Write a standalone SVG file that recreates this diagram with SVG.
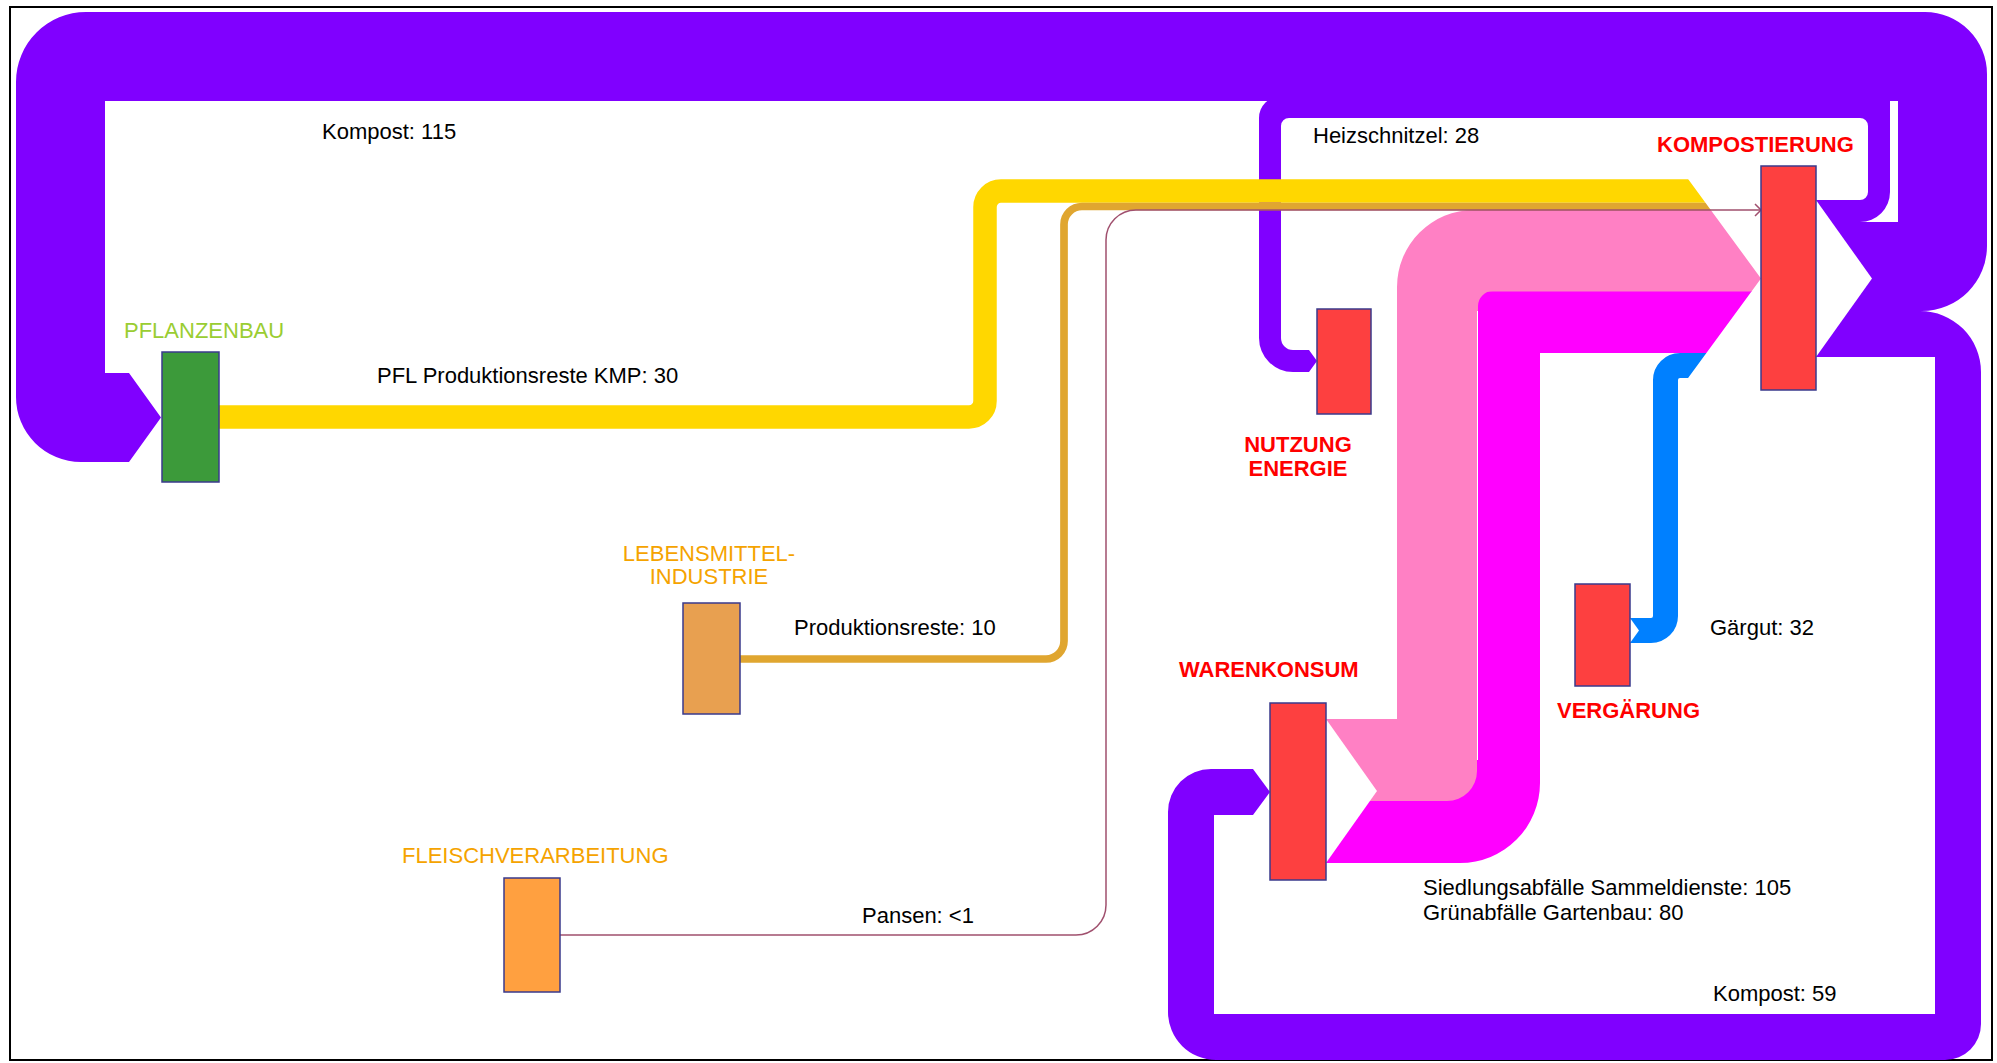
<svg xmlns="http://www.w3.org/2000/svg" width="1997" height="1063" viewBox="0 0 1997 1063">
  <style>
    .lbl { font-family: "Liberation Sans", Arial, sans-serif; font-size: 22px; fill: #000; }
    .nlbl { font-family: "Liberation Sans", Arial, sans-serif; font-size: 22px; font-weight: bold; fill: #ff0000; }
    .slbl { font-family: "Liberation Sans", Arial, sans-serif; font-size: 22px; }
    .node { stroke: #3a3a8c; stroke-width: 1.5; }
    .red { fill: #fd4040; }
    .purple { fill: #8000ff; }
    .notch { fill: #ffffff; }
  </style>
  <defs>
    <!-- everything left of the inflow chevron at KOMPOSTIERUNG -->
    <clipPath id="inflowClip">
      <path d="M0,0 H1680 V168 L1761,278.5 L1680,389 V1063 H0 Z"/>
    </clipPath>
    <marker id="openArrow" markerWidth="9" markerHeight="14" refX="7" refY="7" orient="auto" markerUnits="userSpaceOnUse">
      <path d="M1,1 L7,7 L1,13" fill="none" stroke="#a0506e" stroke-width="1.5"/>
    </marker>
  </defs>

  <rect x="0" y="0" width="1997" height="1063" fill="#ffffff"/>
  <rect x="10" y="7" width="1982" height="1053" fill="none" stroke="#000" stroke-width="2"/>

  <g id="connectors">
    <!-- Kompost: 115 (KOMPOSTIERUNG -> PFLANZENBAU) -->
    <path id="flow-kompost-115" class="purple" d="M1816,311 L1922,311 A65,65 0 0 0 1987,246 L1987,74 A62,62 0 0 0 1925,12 L86,12 A70,70 0 0 0 16,82 L16,397 A65,65 0 0 0 81,462 L129,462 L161,417.5 L129,373 L105,373 L105,101 L1898,101 L1898,222 L1816,222 Z"/>
    <!-- Heizschnitzel: 28 (KOMPOSTIERUNG -> NUTZUNG ENERGIE) -->
    <path id="flow-heizschnitzel" class="purple" d="M1816,222 L1860,222 A30,30 0 0 0 1890,192 L1890,96 L1281,96 A22,22 0 0 0 1259,118 L1259,338 A34,34 0 0 0 1293,372 L1309,372 L1317,361 L1309,350 L1293,350 A12,12 0 0 1 1281,338 L1281,126 A8,8 0 0 1 1289,118 L1860,118 A8,8 0 0 1 1868,126 L1868,192 A8,8 0 0 1 1860,200 L1816,200 Z"/>
    <!-- Kompost: 59 (KOMPOSTIERUNG -> WARENKONSUM) -->
    <path id="flow-kompost-59" class="purple" d="M1816,311 L1920,311 A61,61 0 0 1 1981,372 L1981,1024 A36,36 0 0 1 1945,1060 L1216,1060 A48,48 0 0 1 1168,1012 L1168,812 A43,43 0 0 1 1211,769 L1253,769 L1270,792 L1253,815 L1214,815 L1214,1014 L1935,1014 L1935,357 L1816,357 Z"/>
    <polygon class="notch" points="1816,200 1872,278.5 1816,357"/>

    <g clip-path="url(#inflowClip)">
      <!-- Gärgut: 32 (VERGÄRUNG -> KOMPOSTIERUNG) -->
      <path id="flow-gaergut" d="M1630,630.5 L1651,630.5 A14.5,14.5 0 0 0 1665.5,616 L1665.5,380 A14.5,14.5 0 0 1 1680,365.5 L1800,365.5" fill="none" stroke="#0080ff" stroke-width="25"/>
      <!-- Grünabfälle Gartenbau: 80 -->
      <rect x="1477" y="291" width="20" height="20" fill="#ff80c4"/>
      <path id="flow-gruenabfaelle" fill="#ff00ff" d="M1326,801 L1440,801 L1440,760 L1478,760 L1478,306 A15,15 0 0 1 1493,291 L1800,291 L1800,353 L1540,353 L1540,783 A80,80 0 0 1 1460,863 L1326,863 Z"/>
      <!-- Siedlungsabfälle Sammeldienste: 105 -->
      <path id="flow-siedlungsabfaelle" fill="#ff80c4" d="M1326,719 L1397,719 L1397,287 A77,77 0 0 1 1474,210 L1800,210 L1800,291.5 L1477,291.5 L1477,771 A30,30 0 0 1 1447,801 L1326,801 Z"/>
      <!-- PFL Produktionsreste KMP: 30 -->
      <path id="flow-pfl" d="M219,417 L969,417 A16,16 0 0 0 985,401 L985,207 A16,16 0 0 1 1001,191 L1800,191" fill="none" stroke="#ffd700" stroke-width="23.5"/>
      <!-- Produktionsreste: 10 -->
      <path id="flow-produktionsreste" d="M740,659 L1046,659 A18,18 0 0 0 1064,641 L1064,224.5 A18,18 0 0 1 1082,206.5 L1800,206.5" fill="none" stroke="#e0a630" stroke-width="7.7"/>
    </g>
    <polygon class="notch" points="1630,618 1639,630.5 1630,643"/>
    <polygon class="notch" points="1326,719 1377,791 1326,863"/>

    <!-- Pansen: <1 -->
    <path id="flow-pansen" d="M560,935 L1076,935 A30,30 0 0 0 1106,905 L1106,240 A30,30 0 0 1 1136,210 L1761,210" fill="none" stroke="#a0506e" stroke-width="1.5" marker-end="url(#openArrow)"/>

    <text class="lbl" x="322" y="139">Kompost: 115</text>
    <text class="lbl" x="377" y="383">PFL Produktionsreste KMP: 30</text>
    <text class="lbl" x="1313" y="143">Heizschnitzel: 28</text>
    <text class="lbl" x="794" y="635">Produktionsreste: 10</text>
    <text class="lbl" x="862" y="923">Pansen: &lt;1</text>
    <text class="lbl" x="1710" y="635">Gärgut: 32</text>
    <text class="lbl" x="1423" y="895">Siedlungsabfälle Sammeldienste: 105</text>
    <text class="lbl" x="1423" y="920">Grünabfälle Gartenbau: 80</text>
    <text class="lbl" x="1713" y="1001">Kompost: 59</text>
  </g>

  <g id="node-pflanzenbau">
    <rect class="node" x="162" y="352" width="57" height="130" fill="#3c9a3a"/>
    <text class="slbl" x="124" y="338" fill="#9acd32">PFLANZENBAU</text>
  </g>
  <g id="node-lebensmittelindustrie">
    <rect class="node" x="683" y="603" width="57" height="111" fill="#e8a050"/>
    <text class="slbl" x="709" y="561" fill="#f5a300" text-anchor="middle">LEBENSMITTEL-</text>
    <text class="slbl" x="709" y="584" fill="#f5a300" text-anchor="middle">INDUSTRIE</text>
  </g>
  <g id="node-fleischverarbeitung">
    <rect class="node" x="504" y="878" width="56" height="114" fill="#ffa040"/>
    <text class="slbl" x="402" y="863" fill="#f5a300">FLEISCHVERARBEITUNG</text>
  </g>
  <g id="node-kompostierung">
    <rect class="node red" x="1761" y="166" width="55" height="224"/>
    <text class="nlbl" x="1657" y="152">KOMPOSTIERUNG</text>
  </g>
  <g id="node-nutzung-energie">
    <rect class="node red" x="1317" y="309" width="54" height="105"/>
    <text class="nlbl" x="1298" y="452" text-anchor="middle">NUTZUNG</text>
    <text class="nlbl" x="1298" y="476" text-anchor="middle">ENERGIE</text>
  </g>
  <g id="node-warenkonsum">
    <rect class="node red" x="1270" y="703" width="56" height="177"/>
    <text class="nlbl" x="1179" y="677">WARENKONSUM</text>
  </g>
  <g id="node-vergaerung">
    <rect class="node red" x="1575" y="584" width="55" height="102"/>
    <text class="nlbl" x="1557" y="718">VERGÄRUNG</text>
  </g>
</svg>
